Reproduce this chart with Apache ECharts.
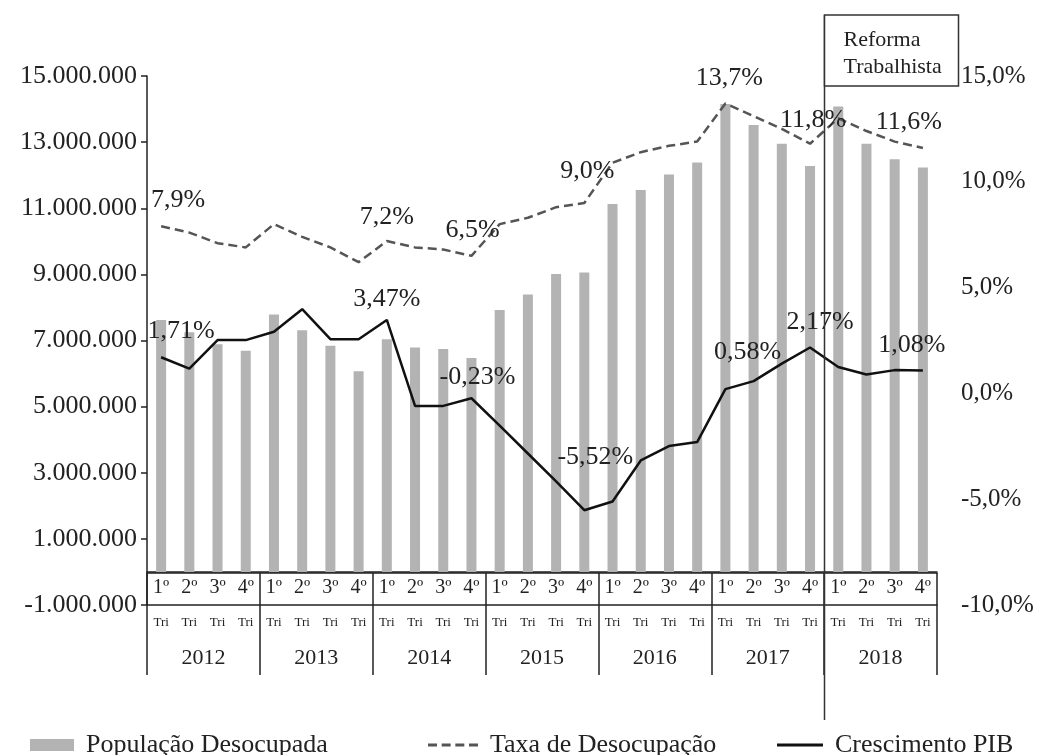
<!DOCTYPE html>
<html><head><meta charset="utf-8">
<script src="https://cdn.jsdelivr.net/npm/echarts@6/dist/echarts.min.js"></script>
<style>html,body{margin:0;padding:0;background:#fff}#c{width:1042px;height:755px}</style>
</head><body><div id="c"></div><script>
// ---- data ----
const years = ['2012','2013','2014','2015','2016','2017','2018'];
const quarters = ['1º','2º','3º','4º'];
const quarterSuffix = 'Tri';
const populacaoDesocupada = [7620000, 7250000, 6890000, 6690000, 7790000, 7310000, 6840000, 6070000,
  7040000, 6790000, 6740000, 6470000, 7920000, 8390000, 9010000, 9060000,
  11130000, 11550000, 12020000, 12380000, 14150000, 13520000, 12950000, 12280000,
  14080000, 12950000, 12480000, 12230000];
const taxaDesocupacao = [7.9, 7.6, 7.1, 6.9, 8.0, 7.4, 6.9, 6.2, 7.2, 6.9, 6.8, 6.5, 8.0, 8.3, 8.8, 9.0,
  10.9, 11.4, 11.7, 11.9, 13.7, 13.1, 12.5, 11.8, 13.0, 12.4, 11.9, 11.6];
const crescimentoPIB = [1.71, 1.17, 2.52, 2.52, 2.91, 3.98, 2.56, 2.56, 3.47, -0.59, -0.59, -0.23,
  -1.52, -2.84, -4.16, -5.52, -5.11, -3.17, -2.49, -2.30, 0.20, 0.58, 1.41, 2.17, 1.25, 0.89, 1.10, 1.08];
const leftTicks = [-1000000, 1000000, 3000000, 5000000, 7000000, 9000000, 11000000, 13000000, 15000000];
const rightTicks = [-10, -5, 0, 5, 10, 15];
const taxaLabelIdx = [0, 8, 11, 15, 20, 23, 27];
const pibLabelIdx = [0, 8, 11, 15, 21, 23, 27];
const reformaIndex = 24;
const reformaText = ['Reforma', 'Trabalhista'];
const seriesNames = ['População Desocupada', 'Taxa de Desocupação', 'Crescimento PIB'];

// ---- presentation ----
const FONT = '"Liberation Serif", "Times New Roman", serif';
const INK = '#222';
const categories = years.flatMap(y => quarters.map(q => q + ' ' + quarterSuffix + ' ' + y));
const taxaOffsets = {0:[17,-26], 8:[0,-24], 11:[1,-26], 15:[3,-32], 20:[4,-25], 23:[3,-24], 27:[-14,-26]};
const pibOffsets = {0:[20,-26], 8:[0,-21], 11:[6,-21], 15:[11,-53], 21:[-6,-29], 23:[10,-25], 27:[-11,-25]};
const pct = (v, d) => v.toFixed(d).replace('.', ',') + '%';
const thousands = v => (v < 0 ? '-' : '') + String(Math.abs(v)).replace(/\B(?=(\d{3})+(?!\d))/g, '.');

function lineData(values, idxList, offsets, decimals) {
  return values.map((v, i) => {
    if (!idxList.includes(i)) return v;
    return {
      value: v, symbol: 'circle', symbolSize: 0,
      label: { show: true, position: 'inside', offset: offsets[i], color: INK, fontSize: 26,
        fontFamily: FONT, textBorderWidth: 0, formatter: () => pct(v, decimals) }
    };
  });
}

const chart = echarts.init(document.getElementById('c'), null, { renderer: 'canvas' });
const legendText = { fontFamily: FONT, fontSize: 26, color: INK, padding: [0, 0, 0, 7] };
const dashIcon = 'path://M0,0h9v3h-9zM13.67,0h9v3h-9zM27.33,0h9v3h-9zM41,0h9v3h-9z';
const axisLineStyle = { color: INK, width: 1.5 };
const RIGHT = 105;

chart.setOption({
  animation: false,
  backgroundColor: '#fff',
  textStyle: { fontFamily: FONT },
  grid: [
    { left: 147, right: RIGHT, top: 76, bottom: 150, outerBoundsMode: 'none', containLabel: false },
    { left: 147, right: RIGHT, top: 573, bottom: 80, outerBoundsMode: 'none', containLabel: false }
  ],
  legend: [
    { left: 25, top: 727, itemWidth: 44, itemHeight: 12, textStyle: legendText,
      data: [{ name: seriesNames[0], icon: 'rect' }] },
    { left: 423, top: 727, itemWidth: 50, itemHeight: 3, textStyle: legendText,
      data: [{ name: seriesNames[1], icon: dashIcon }] },
    { left: 772, top: 727, itemWidth: 46, itemHeight: 3, textStyle: legendText,
      data: [{ name: seriesNames[2], icon: 'rect' }] }
  ],
  xAxis: [
    { gridIndex: 0, type: 'category', data: categories, boundaryGap: true,
      axisLine: { show: true, onZero: true, lineStyle: axisLineStyle },
      axisTick: { show: false }, axisLabel: { show: false }, splitLine: { show: false } },
    { gridIndex: 1, type: 'category', position: 'top', data: categories, boundaryGap: true,
      axisLine: { show: true, onZero: false, lineStyle: axisLineStyle },
      axisTick: { show: false },
      axisLabel: { inside: true, interval: 0, margin: 5, fontSize: 20, color: INK, fontFamily: FONT,
        formatter: (v, i) => quarters[i % 4] },
      splitLine: { show: false } },
    { gridIndex: 1, type: 'category', position: 'top', offset: -32, data: categories, boundaryGap: true,
      axisLine: { show: true, onZero: false, lineStyle: axisLineStyle },
      axisTick: { show: false },
      axisLabel: { inside: true, interval: 0, margin: 11, fontSize: 13, color: INK, fontFamily: FONT,
        formatter: () => quarterSuffix },
      splitLine: { show: false } },
    { gridIndex: 1, type: 'category', position: 'bottom', data: years, boundaryGap: true,
      axisLine: { show: false, onZero: false },
      axisTick: { show: true, inside: true, length: 102, interval: 0, lineStyle: axisLineStyle },
      axisLabel: { inside: true, interval: 0, margin: 6, fontSize: 22, color: INK, fontFamily: FONT },
      splitLine: { show: false } }
  ],
  yAxis: [
    { gridIndex: 0, type: 'value', position: 'left', min: -1000000, max: 15000000,
      axisLine: { show: true, onZero: false, lineStyle: axisLineStyle },
      axisTick: { show: true, length: 6, customValues: leftTicks, lineStyle: axisLineStyle },
      axisLabel: { customValues: leftTicks, margin: 10, fontSize: 26, color: INK, fontFamily: FONT,
        formatter: v => thousands(v) },
      splitLine: { show: false } },
    { gridIndex: 0, type: 'value', position: 'right', min: -10, max: 15, interval: 5,
      axisLine: { show: false }, axisTick: { show: false },
      axisLabel: { customValues: rightTicks, margin: 24, fontSize: 25, color: INK, fontFamily: FONT,
        formatter: v => pct(v, 1) },
      splitLine: { show: false } },
    { gridIndex: 1, type: 'value', show: false, min: 0, max: 1 }
  ],
  series: [
    { name: seriesNames[0], type: 'bar', xAxisIndex: 0, yAxisIndex: 0, data: populacaoDesocupada,
      barWidth: 10, itemStyle: { color: '#b3b3b3' }, z: 1 },
    { name: seriesNames[1], type: 'line', xAxisIndex: 0, yAxisIndex: 1,
      data: lineData(taxaDesocupacao, taxaLabelIdx, taxaOffsets, 1),
      symbol: 'none', lineStyle: { color: '#555', width: 2.5, type: [9, 5] }, itemStyle: { color: '#555' }, z: 3 },
    { name: seriesNames[2], type: 'line', xAxisIndex: 0, yAxisIndex: 1,
      data: lineData(crescimentoPIB, pibLabelIdx, pibOffsets, 2),
      symbol: 'none', lineStyle: { color: '#111', width: 2.5 }, itemStyle: { color: '#111' }, z: 4 }
  ]
});

// Reforma Trabalhista annotation at boundary before reformaIndex
const xa = chart.convertToPixel({ xAxisIndex: 0 }, categories[reformaIndex - 1]);
const xb = chart.convertToPixel({ xAxisIndex: 0 }, categories[reformaIndex]);
const xr = Math.round((xa + xb) / 2) + 0.5;
chart.setOption({
  graphic: [
    { type: 'line', z: 50, shape: { x1: xr, y1: 15, x2: xr, y2: 720 }, style: { stroke: '#333', lineWidth: 1.5 } },
    { type: 'rect', z: 51, shape: { x: xr, y: 15, width: 134, height: 71 }, style: { fill: '#fff', stroke: '#333', lineWidth: 1.5 } },
    { type: 'text', z: 52, x: xr + 19, y: 40, style: { text: reformaText[0], font: '22px ' + FONT, fill: INK, verticalAlign: 'middle' } },
    { type: 'text', z: 52, x: xr + 19, y: 67, style: { text: reformaText[1], font: '22px ' + FONT, fill: INK, verticalAlign: 'middle' } }
  ]
});
</script></body></html>
